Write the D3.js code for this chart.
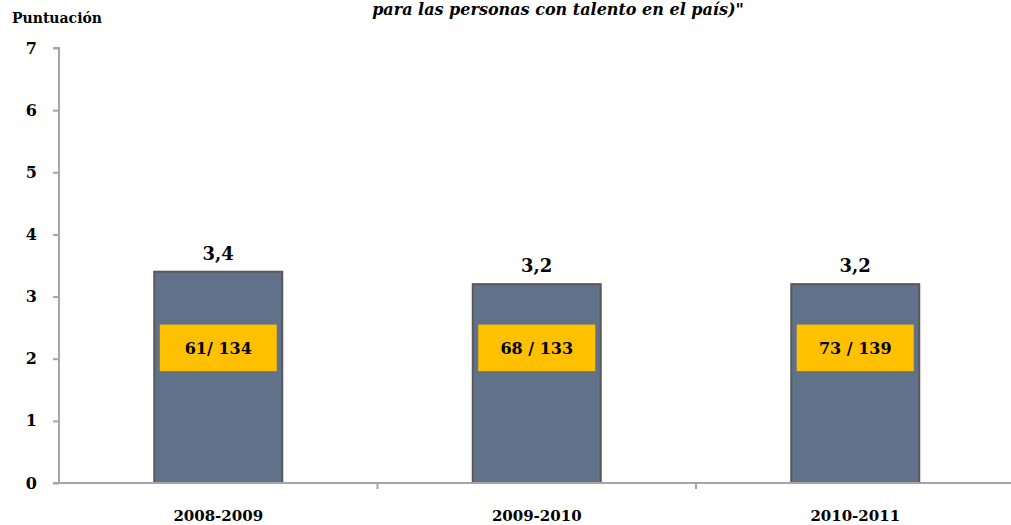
<!DOCTYPE html>
<html>
<head>
<meta charset="utf-8">
<script src="https://cdn.jsdelivr.net/npm/d3@7"></script>
<style>
  html, body { margin: 0; padding: 0; background: #fff; }
  svg { display: block; }
  text { font-family: "DejaVu Serif", Georgia, serif; font-weight: bold; fill: #000; }
</style>
</head>
<body>
<svg id="chart" width="1011" height="525"></svg>
<script>
// Data
const periods = ["2008-2009", "2009-2010", "2010-2011"];
const scores = [3.4, 3.2, 3.2];
const rankLabels = ["61/ 134", "68 / 133", "73 / 139"];
const yTicks = [0, 1, 2, 3, 4, 5, 6, 7];
const titleLine = "para las personas con talento en el país)\"";
const yAxisTitle = "Puntuación";

const W = 1011, H = 525;
const margin = { left: 59, right: -3.5, top: 48, bottom: 42 };
const svg = d3.select("#chart");

const x = d3.scaleBand()
  .domain(periods)
  .range([margin.left, W - margin.right])
  .paddingInner(0).paddingOuter(0);

const y = d3.scaleLinear()
  .domain([0, 7])
  .range([H - margin.bottom, margin.top]);

const axisColor = "#a6a6a6";
const barWidth = 128;

// Bars
const g = svg.append("g");
g.selectAll("rect.bar")
  .data(scores)
  .join("rect")
  .attr("class", "bar")
  .attr("x", (d, i) => x(periods[i]) + x.bandwidth() / 2 - barWidth / 2)
  .attr("y", d => y(d))
  .attr("width", barWidth)
  .attr("height", d => y(0) - y(d))
  .attr("fill", "#5f7289")
  .attr("stroke", "#595959")
  .attr("stroke-width", 2);

// Value labels above the bars
g.selectAll("text.val")
  .data(scores)
  .join("text")
  .attr("class", "val")
  .attr("x", (d, i) => x(periods[i]) + x.bandwidth() / 2)
  .attr("y", d => y(d) - 12)
  .attr("text-anchor", "middle")
  .style("font-size", "18px")
  .text(d => d.toFixed(1).replace(".", ","));

// Ranking boxes inside the bars
const boxTop = y(2.55), boxBottom = y(1.8);
const boxInset = 5.5;
g.selectAll("rect.rank")
  .data(rankLabels)
  .join("rect")
  .attr("class", "rank")
  .attr("x", (d, i) => x(periods[i]) + x.bandwidth() / 2 - barWidth / 2 + boxInset)
  .attr("y", boxTop)
  .attr("width", barWidth - 2 * boxInset)
  .attr("height", boxBottom - boxTop)
  .attr("fill", "#ffc000");

g.selectAll("text.rank")
  .data(rankLabels)
  .join("text")
  .attr("class", "rank")
  .attr("x", (d, i) => x(periods[i]) + x.bandwidth() / 2)
  .attr("y", (boxTop + boxBottom) / 2)
  .attr("dy", "0.36em")
  .attr("text-anchor", "middle")
  .style("font-size", "16px")
  .text(d => d);

// Y axis
const yAxis = svg.append("g")
  .attr("transform", `translate(${margin.left},0)`)
  .call(d3.axisLeft(y).tickValues(yTicks).tickSize(6).tickPadding(16).tickFormat(d3.format("d")));
yAxis.select(".domain").attr("stroke", axisColor).attr("stroke-width", 2)
  .attr("d", `M-6,${y(7)}H0V${y(0)}`);
yAxis.selectAll(".tick line").attr("stroke", axisColor).attr("stroke-width", 2);
yAxis.selectAll(".tick text").style("font-size", "16px").attr("fill", "#000")
  .style("font-family", "'DejaVu Serif', Georgia, serif").style("font-weight", "bold");

// X axis
const xAxisG = svg.append("g").attr("transform", `translate(0,${y(0)})`);
xAxisG.append("line")
  .attr("x1", margin.left - 6).attr("x2", W)
  .attr("y1", 0).attr("y2", 0)
  .attr("stroke", axisColor).attr("stroke-width", 2);
xAxisG.selectAll("line.tick")
  .data(periods.slice(1))
  .join("line")
  .attr("class", "tick")
  .attr("x1", d => x(d)).attr("x2", d => x(d))
  .attr("y1", 0).attr("y2", 6)
  .attr("stroke", axisColor).attr("stroke-width", 2);
xAxisG.selectAll("text.cat")
  .data(periods)
  .join("text")
  .attr("class", "cat")
  .attr("x", d => x(d) + x.bandwidth() / 2)
  .attr("y", 38)
  .attr("text-anchor", "middle")
  .style("font-size", "15px")
  .text(d => d);

// Axis title
svg.append("text")
  .attr("x", 12).attr("y", 23)
  .style("font-size", "14px")
  .text(yAxisTitle);

// Chart title (second line)
svg.append("text")
  .attr("x", 558).attr("y", 15)
  .attr("text-anchor", "middle")
  .style("font-size", "16px")
  .style("font-style", "italic")
  .text(titleLine);
</script>
</body>
</html>
